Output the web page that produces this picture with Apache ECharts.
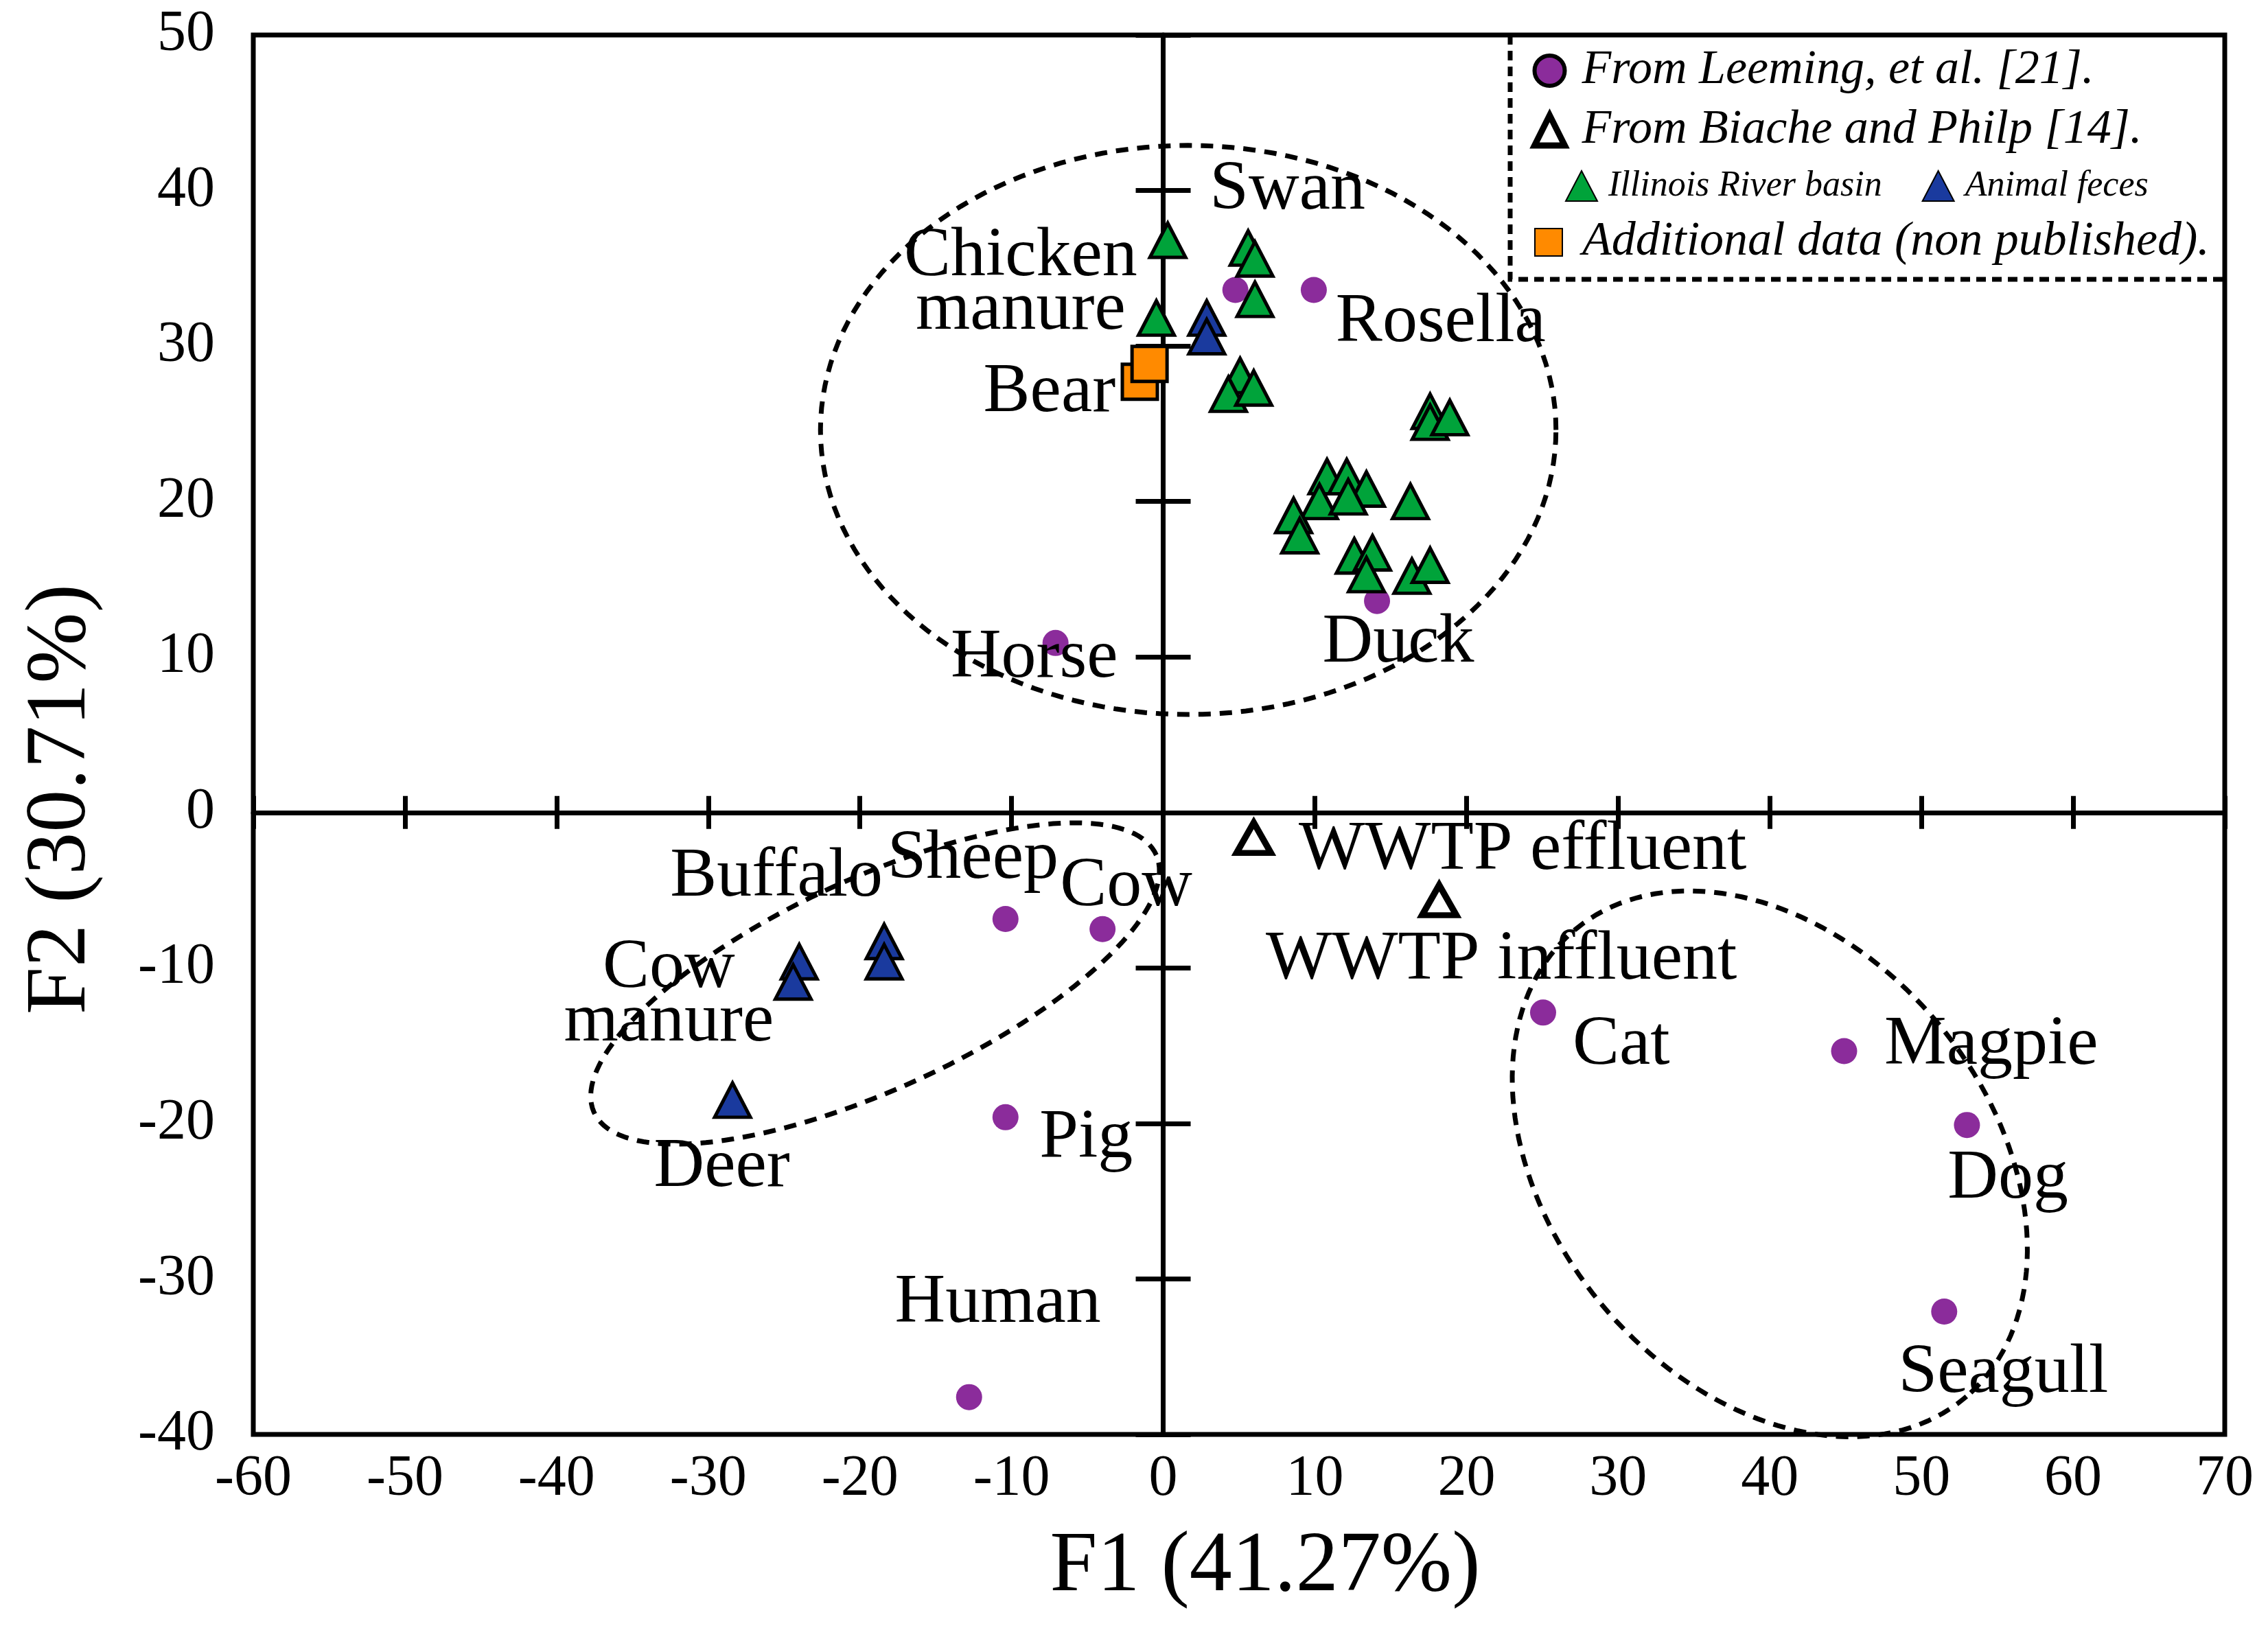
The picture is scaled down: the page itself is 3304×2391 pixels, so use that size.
<!DOCTYPE html>
<html>
<head>
<meta charset="utf-8">
<script src="https://cdn.jsdelivr.net/npm/echarts@6/dist/echarts.min.js"></script>
<style>
html, body { margin: 0; padding: 0; background: #fff; }
#chart { width: 3304px; height: 2391px; }
</style>
</head>
<body>
<div id="chart"></div>
<script>
// axis ranges
const xMin = -60, xMax = 70, xStep = 10;
const yMin = -40, yMax = 50, yStep = 10;

// From Leeming, et al. [21]
const leemingNames = ['Chicken manure', 'Rosella', 'Duck', 'Horse', 'Sheep', 'Cow', 'Pig', 'Human', 'Cat', 'Magpie', 'Dog', 'Seagull'];
const leemingX = [4.76, 9.93, 14.1, -7.1, -10.4, -4.0, -10.4, -12.8, 25.05, 44.9, 53.0, 51.5];
const leemingY = [33.6, 33.6, 13.6, 10.9, -6.85, -7.5, -19.6, -37.6, -12.87, -15.35, -20.1, -32.1];

// From Biache and Philp [14]
const biacheNames = ['WWTP effluent', 'WWTP inffluent'];
const biacheX = [5.97, 18.2];
const biacheY = [-1.63, -5.64];

// Illinois River basin
const illinoisX = [0.3, 5.6, 6.05, 6.05, -0.45, 5.07, 4.3, 5.97, 17.6, 17.6, 18.9, 10.8, 12.1, 13.4,
  10.3, 12.2, 16.3, 8.6, 9.0, 12.6, 13.8, 13.4, 16.4, 17.6];
const illinoisY = [36.8, 36.3, 35.6, 33.0, 31.8, 28.1, 26.9, 27.3, 25.8, 25.1, 25.4, 21.6, 21.6, 20.8,
  20.0, 20.3, 20.0, 19.1, 17.8, 16.5, 16.7, 15.3, 15.2, 15.9];

// Animal feces
const fecesX = [2.87, 2.87, -24.0, -24.4, -18.4, -18.4, -28.4];
const fecesY = [31.8, 30.6, -9.6, -10.9, -8.3, -9.6, -18.5];

// Additional data (non published)
const additionalX = [-1.54, -0.9];
const additionalY = [27.7, 28.85];

// text labels (anchor in data units)
const labelNames = ['Swan', 'Chicken\nmanure', 'Bear', 'Rosella', 'Duck', 'Horse', 'WWTP effluent', 'WWTP inffluent',
  'Buffalo', 'Sheep', 'Cow', 'Cow\nmanure', 'Deer', 'Pig', 'Human', 'Cat', 'Magpie', 'Dog', 'Seagull'];
const labelX = [8.2, -9.4, -7.5, 18.3, 15.5, -8.5, 23.7, 22.3, -25.5, -12.55, -2.44, -32.6, -29.1, -5.08, -10.9, 30.2, 54.6, 55.7, 55.4];
const labelY = [40.0, 34.0, 27.0, 31.5, 10.9, 9.9, -2.44, -9.5, -4.15, -3.0, -4.8, -11.75, -22.85, -21.0, -31.6, -15.0, -15.0, -23.6, -36.1];

// grouping ellipses: centre, semi-axes, rotation (deg)
const ellipseCX = [1.65, -19.0, 40.0];
const ellipseCY = [24.6, -11.0, -22.6];
const ellipseA = [24.25, 20.3, 19.8];
const ellipseB = [18.3, 6.8, 14.3];
const ellipseAngle = [0, 24, -48];

const FONT = 'Liberation Serif';

function zip(xs, ys, names) {
  return xs.map(function (x, i) {
    const d = { value: [x, ys[i]] };
    if (names) d.name = names[i];
    return d;
  });
}

const ellipseData = ellipseCX.map(function (cx, i) {
  return [cx, ellipseCY[i], ellipseA[i], ellipseB[i], ellipseAngle[i]];
});

function renderEllipse(params, api) {
  const cx = api.value(0), cy = api.value(1), a = api.value(2), b = api.value(3);
  const t = api.value(4) * Math.PI / 180;
  const pts = [];
  for (let i = 0; i <= 160; i++) {
    const s = i / 160 * 2 * Math.PI;
    const u = a * Math.cos(s), v = b * Math.sin(s);
    pts.push(api.coord([cx + u * Math.cos(t) - v * Math.sin(t), cy + u * Math.sin(t) + v * Math.cos(t)]));
  }
  return {
    type: 'polyline',
    shape: { points: pts },
    style: { fill: null, stroke: '#000', lineWidth: 7, lineDash: [18, 13] }
  };
}

const chart = echarts.init(document.getElementById('chart'));

const tickLine = { color: '#000', width: 7 };

function valueAxis(lo, hi, step, extra) {
  return Object.assign({
    type: 'value', min: lo, max: hi, interval: step,
    splitLine: { show: false },
    axisLabel: { show: false }
  }, extra);
}

const option = {
  animation: false,
  backgroundColor: '#fff',
  grid: {
    left: 369, right: 63, top: 51, bottom: 301,
    show: true, borderColor: '#000', borderWidth: 7,
    outerBoundsMode: 'none'
  },
  xAxis: [
    valueAxis(xMin, xMax, xStep, {
      position: 'bottom',
      axisLine: { show: false, onZero: false },
      axisTick: { show: false },
      axisLabel: { show: true, color: '#000', fontSize: 84, fontFamily: FONT, margin: 24 },
      name: 'F1 (41.27%)', nameLocation: 'middle', nameGap: 132,
      nameTextStyle: { color: '#000', fontSize: 124, fontFamily: FONT, padding: [0, 0, 0, 76] }
    }),
    valueAxis(xMin, xMax, xStep, {
      position: 'bottom',
      axisLine: { show: true, onZero: true, onZeroAxisIndex: 0, lineStyle: tickLine },
      axisTick: { show: true, inside: true, length: 24, lineStyle: tickLine }
    }),
    valueAxis(xMin, xMax, xStep, {
      position: 'bottom',
      axisLine: { show: false, onZero: true, onZeroAxisIndex: 0 },
      axisTick: { show: true, inside: false, length: 24, lineStyle: tickLine }
    })
  ],
  yAxis: [
    valueAxis(yMin, yMax, yStep, {
      position: 'left',
      axisLine: { show: false, onZero: false },
      axisTick: { show: false },
      axisLabel: { show: true, color: '#000', fontSize: 84, fontFamily: FONT, margin: 56 },
      name: 'F2 (30.71%)', nameLocation: 'middle', nameGap: 217,
      nameTextStyle: { color: '#000', fontSize: 124, fontFamily: FONT, padding: [0, 188, 0, 0] }
    }),
    valueAxis(yMin, yMax, yStep, {
      position: 'left',
      axisLine: { show: true, onZero: true, onZeroAxisIndex: 0, lineStyle: tickLine },
      axisTick: { show: true, inside: true, length: 40, lineStyle: tickLine }
    }),
    valueAxis(yMin, yMax, yStep, {
      position: 'left',
      axisLine: { show: false, onZero: true, onZeroAxisIndex: 0 },
      axisTick: { show: true, inside: false, length: 40, lineStyle: tickLine }
    })
  ],
  legend: [
    {
      selectedMode: false, orient: 'vertical', left: 2231, top: 68, padding: 0,
      itemWidth: 44, itemHeight: 44, itemGap: 17,
      textStyle: { color: '#000', fontSize: 70, lineHeight: 70, fontStyle: 'italic', fontFamily: FONT, padding: [0, 0, 0, 20] },
      data: [
        { name: 'From Leeming, et al. [21].', itemStyle: { borderColor: '#000', borderWidth: 6 } },
        { name: 'From Biache and Philp [14].', itemStyle: { color: '#fff', borderColor: '#000', borderWidth: 9 } }
      ]
    },
    {
      selectedMode: false, orient: 'horizontal', left: 2280, top: 244, padding: 0,
      itemWidth: 46, itemHeight: 44, itemGap: 58,
      textStyle: { color: '#000', fontSize: 52, lineHeight: 54, fontStyle: 'italic', fontFamily: FONT, padding: [0, 0, 0, 11] },
      data: ['Illinois River basin', 'Animal feces']
    },
    {
      selectedMode: false, orient: 'vertical', left: 2235, top: 318, padding: 0,
      itemWidth: 40, itemHeight: 40,
      textStyle: { color: '#000', fontSize: 70, lineHeight: 70, fontStyle: 'italic', fontFamily: FONT, padding: [0, 0, 0, 24] },
      data: ['Additional data (non published).']
    }
  ],
  graphic: [
    {
      type: 'polyline', silent: true, z: 10,
      shape: { points: [[2200, 51], [2200, 407], [3241, 407]] },
      style: { fill: null, stroke: '#000', lineWidth: 7, lineDash: [14, 9] }
    }
  ],
  series: [
    {
      name: 'labels', type: 'scatter', symbolSize: 0, silent: true,
      itemStyle: { opacity: 1, color: '#000' },
      data: zip(labelX, labelY, labelNames),
      label: {
        show: true, position: 'inside', formatter: '{b}', color: '#000', opacity: 1,
        textBorderWidth: 0, fontSize: 102, lineHeight: 78, fontFamily: FONT
      }
    },
    {
      name: 'groups', type: 'custom', silent: true,
      renderItem: renderEllipse,
      encode: { x: 0, y: 1 },
      data: ellipseData
    },
    {
      name: 'From Leeming, et al. [21].', type: 'scatter', symbol: 'circle', symbolSize: 38,
      itemStyle: { color: '#8B2C9B', opacity: 1 },
      data: zip(leemingX, leemingY, leemingNames)
    },
    {
      name: 'From Biache and Philp [14].', type: 'scatter', symbol: 'triangle', symbolSize: [50, 44],
      itemStyle: { color: '#fff', borderColor: '#000', borderWidth: 9, opacity: 1 },
      data: zip(biacheX, biacheY, biacheNames)
    },
    {
      name: 'Illinois River basin', type: 'scatter', symbol: 'triangle', symbolSize: [52, 50],
      itemStyle: { color: '#00A33A', borderColor: '#000', borderWidth: 5, opacity: 1 },
      data: zip(illinoisX, illinoisY)
    },
    {
      name: 'Animal feces', type: 'scatter', symbol: 'triangle', symbolSize: [52, 50],
      itemStyle: { color: '#1A3A9E', borderColor: '#000', borderWidth: 5, opacity: 1 },
      data: zip(fecesX, fecesY)
    },
    {
      name: 'Additional data (non published).', type: 'scatter', symbol: 'rect', symbolSize: 51,
      itemStyle: { color: '#FF8A00', borderColor: '#000', borderWidth: 5, opacity: 1 },
      data: zip(additionalX, additionalY)
    }
  ]
};

chart.setOption(option);
</script>
</body>
</html>
